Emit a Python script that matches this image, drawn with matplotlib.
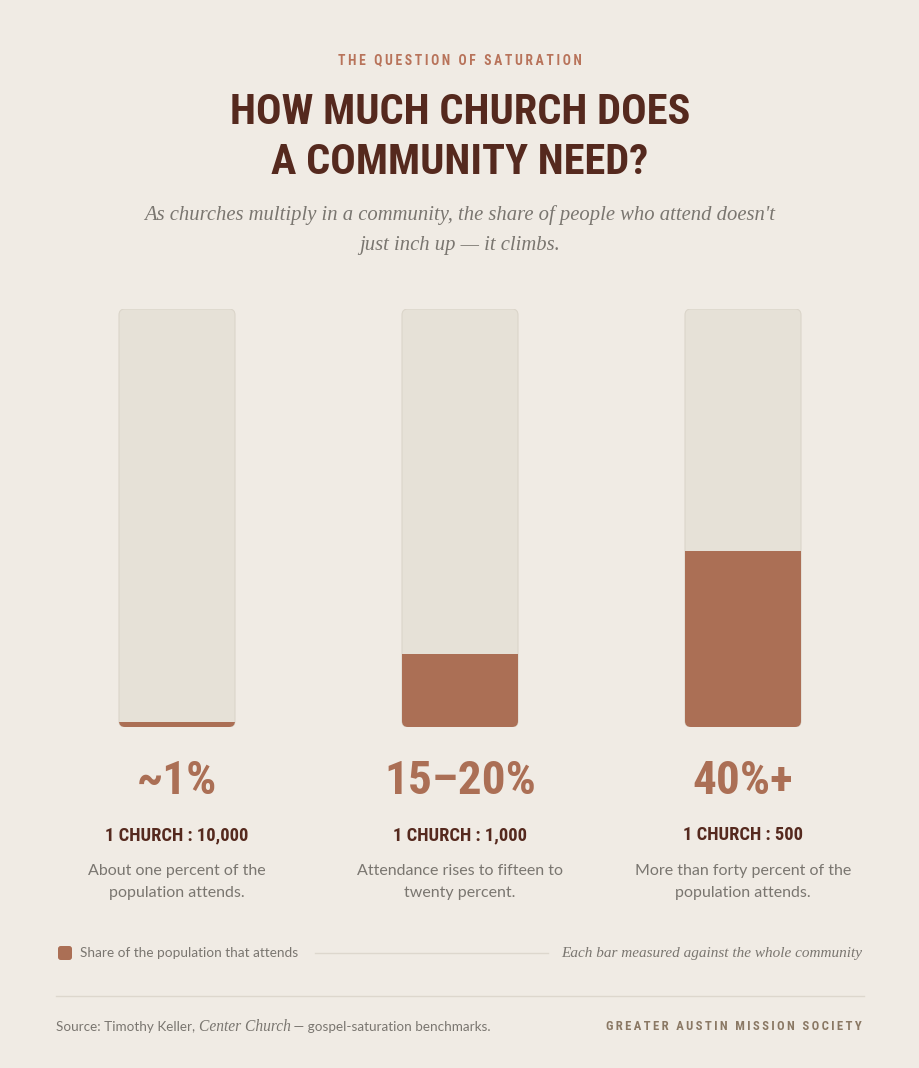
import matplotlib
matplotlib.use("Agg")
import matplotlib.pyplot as plt
import matplotlib.transforms as mtransforms
from matplotlib.patches import FancyBboxPatch

# data
categories = ["~1%", "15–20%", "40%+"]
attend_share = [1.2, 17.5, 42.0]
ratios = ["1 CHURCH : 10,000", "1 CHURCH : 1,000", "1 CHURCH : 500"]
notes = [
    "About one percent of the\npopulation attends.",
    "Attendance rises to fifteen to\ntwenty percent.",
    "More than forty percent of the\npopulation attends.",
]

BG = "#F0EBE4"
TRACK = "#E6E1D7"
TRACK_EDGE = "#DBD5CA"
FILL = "#AB6F55"
DARK = "#55291E"
KICK = "#B8735A"
GREY = "#7A7670"
RULE = "#DDD7CD"

COND = ["Liberation Sans Narrow", "DejaVu Sans Condensed", "Roboto Condensed", "DejaVu Sans"]
SERIF = ["Liberation Serif", "DejaVu Serif"]
BODY = ["Lato", "Open Sans", "DejaVu Sans"]

W, H = 920, 1068


def fx(px):
    return px / W


def fy(py):
    return 1 - py / H


def spaced(s, sep="\u2009"):
    return sep.join(s)


fig = plt.figure(figsize=(W / 100, H / 100), dpi=100, facecolor=BG)

# header
fig.text(fx(460), fy(60), spaced("THE QUESTION OF SATURATION"), ha="center", va="center",
         family=COND, weight="bold", size=9.8, color=KICK)
fig.text(fx(460), fy(113), "HOW MUCH CHURCH DOES", ha="center", va="center",
         family=COND, weight="bold", size=30.5, color=DARK)
fig.text(fx(460), fy(163), "A COMMUNITY NEED?", ha="center", va="center",
         family=COND, weight="bold", size=30.5, color=DARK)
fig.text(fx(460), fy(215),
         "As churches multiply in a community, the share of people who attend doesn't",
         ha="center", va="center", family=SERIF, style="italic", size=14.9, color=GREY)
fig.text(fx(460), fy(245), "just inch up — it climbs.", ha="center", va="center",
         family=SERIF, style="italic", size=14.9, color=GREY)

# bars
step = 283
ax = fig.add_axes([fx(177 - step / 2), fy(727), fx(3 * step), 418 / H])
ax.set_xlim(-0.5, 2.5)
ax.set_ylim(0, 100)
ax.axis("off")
ax.patch.set_alpha(0)

bw = 116 / step
radius_px = 6
px_x = step
px_y = 418 / 100
aspect = px_x / px_y

for i, v in enumerate(attend_share):
    track = FancyBboxPatch((i - bw / 2, 0), bw, 100,
                           boxstyle=f"round,pad=0,rounding_size={radius_px / px_x}",
                           mutation_aspect=aspect, fc=TRACK, ec=TRACK_EDGE, lw=0.8,
                           zorder=1)
    ax.add_patch(track)
    bar = ax.bar(i, v, width=bw, bottom=0, color=FILL, zorder=2)
    bar[0].set_clip_path(track)

# labels under bars
tr = mtransforms.blended_transform_factory(ax.transData, fig.transFigure)
for i in range(3):
    ax.text(i, fy(781), categories[i], transform=tr, ha="center", va="center",
            family=COND, weight="bold", size=34, color=FILL)
    ax.text(i, fy(835), ratios[i], transform=tr, ha="center", va="center",
            family=COND, weight="bold", size=13.3, color=DARK)
    ax.text(i, fy(882), notes[i], transform=tr, ha="center", va="center",
            family=BODY, size=11.5, color=GREY, linespacing=1.75)

# legend row
fig.patches.append(FancyBboxPatch((fx(58), fy(960)), fx(14), 14 / H,
                                  boxstyle="round,pad=0,rounding_size=0.003",
                                  mutation_aspect=W / H, fc=FILL, ec="none",
                                  transform=fig.transFigure, figure=fig))
fig.text(fx(80), fy(953), "Share of the population that attends", ha="left", va="center",
         family=BODY, size=9.8, color=GREY)
fig.add_artist(plt.Line2D([fx(315), fx(548)], [fy(953), fy(953)], color=RULE, lw=1))
fig.text(fx(862), fy(953), "Each bar measured against the whole community", ha="right",
         va="center", family=SERIF, style="italic", size=11.0, color=GREY)

fig.add_artist(plt.Line2D([fx(56), fx(864)], [fy(996), fy(996)], color=RULE, lw=1))

# footer
t1 = fig.text(fx(56), fy(1027), "Source: Timothy Keller, ", ha="left", va="center",
              family=BODY, size=9.7, color=GREY)
t2 = fig.text(0, 0, "Center Church", family=SERIF, style="italic", size=11.2, color=GREY)
t3 = fig.text(0, 0, " — gospel-saturation benchmarks.", family=BODY, size=9.7, color=GREY)
fig.canvas.draw()
r = fig.canvas.get_renderer()
bb = t1.get_window_extent(r)
t2.set_position((bb.x1 / W, fy(1027)))
t2.set_va("center")
fig.canvas.draw()
bb2 = t2.get_window_extent(r)
t3.set_position((bb2.x1 / W, fy(1027)))
t3.set_va("center")

fig.text(fx(862), fy(1027), spaced("GREATER AUSTIN MISSION SOCIETY"), ha="right",
         va="center", family=COND, weight="bold", size=9.1, color="#8A7864")

fig.savefig("out.png", dpi=100, facecolor=BG)
